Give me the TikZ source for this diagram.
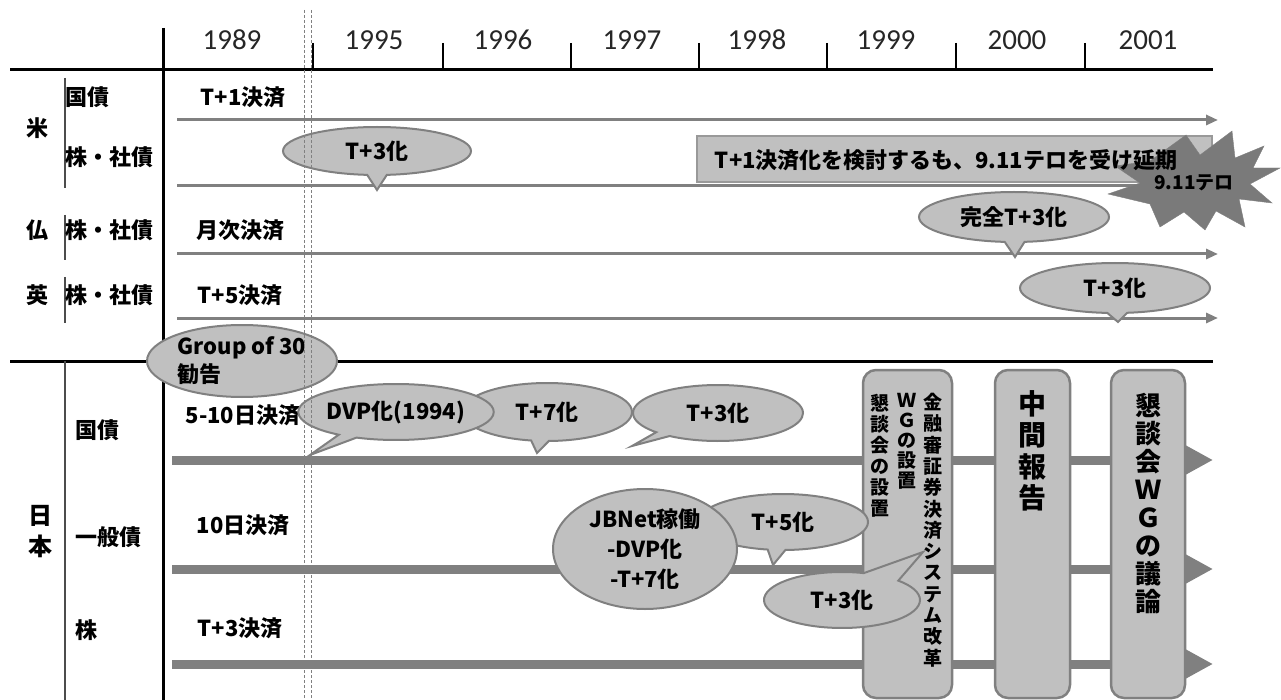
\documentclass[tikz,border=0pt]{standalone}
\usepackage{fontspec}
\setmainfont{Noto Sans CJK JP}
\newfontfamily\yr{Carlito}
\usetikzlibrary{shapes.callouts,shapes.geometric,arrows.meta}
\definecolor{fillg}{HTML}{C0C0C0}
\definecolor{edgeg}{HTML}{808080}
\definecolor{lineg}{HTML}{808080}
\definecolor{starg}{HTML}{7A7A7A}
\tikzset{
  lbl/.style={font=\fontsize{22}{24}\selectfont\bfseries, inner sep=0pt},
  yrlbl/.style={font=\yr\fontsize{29}{30}\selectfont, inner sep=0pt, text=black!85},
  co/.style={ellipse callout, draw=edgeg, fill=fillg, line width=2pt, inner sep=0pt,
             callout pointer arc=12, font=\fontsize{22}{24}\selectfont\bfseries},
  ov/.style={ellipse, draw=edgeg, fill=fillg, line width=2pt, inner sep=0pt,
             font=\fontsize{22}{24}\selectfont\bfseries},
  vbox/.style={draw=edgeg, fill=fillg, line width=2.5pt, rounded corners=13pt, inner sep=0pt},
  vtext/.style={align=center, inner sep=0pt, anchor=north},
  wline/.style={line width=3pt, draw=lineg, -{Triangle[length=12pt,width=10pt]}},
  jline/.style={line width=9pt, draw=lineg, -{Triangle[length=27pt,width=27pt]}},
  axisline/.style={line width=3pt, draw=black},
  tickline/.style={line width=2.5pt, draw=black},
  thinline/.style={line width=1.5pt, draw=black!70},
  vdashed/.style={dashed, dash pattern=on 3pt off 2pt, line width=0.8pt, draw=edgeg},
}
\begin{document}
\begin{tikzpicture}[x=1pt,y=-1pt]
\useasboundingbox (0,0) rectangle (1281,700);

% ---------- axes ----------
\coordinate (hL) at (10,70);   \coordinate (hR) at (1213,70);
\coordinate (sL) at (10,361);  \coordinate (sR) at (1213,361);
\coordinate (vT) at (163,28);  \coordinate (vB) at (163,700);
\draw[axisline] (hL) -- (hR);
\draw[axisline] (sL) -- (sR);
\draw[axisline] (vT) -- (vB);

% year ticks
\foreach \i/\x in {1/313,2/443,3/571,4/699,5/827,6/956,7/1085}{
  \coordinate (tk\i a) at (\x,43);
  \coordinate (tk\i b) at (\x,70);
  \draw[tickline] (tk\i a) -- (tk\i b);
}
% years
\node[yrlbl] (y89) at (232,40) {1989};
\node[yrlbl] (y95) at (374,40) {1995};
\node[yrlbl] (y96) at (503,40) {1996};
\node[yrlbl] (y97) at (632,40) {1997};
\node[yrlbl] (y98) at (757,40) {1998};
\node[yrlbl] (y99) at (886,40) {1999};
\node[yrlbl] (y00) at (1017,40) {2000};
\node[yrlbl] (y01) at (1148,40) {2001};

% thin row-group lines
\coordinate (g1a) at (65,78);  \coordinate (g1b) at (65,188);
\coordinate (g2a) at (65,215); \coordinate (g2b) at (65,260);
\coordinate (g3a) at (65,277); \coordinate (g3b) at (65,323);
\coordinate (g4a) at (65,361); \coordinate (g4b) at (65,700);
\draw[thinline] (g1a) -- (g1b);
\draw[thinline] (g2a) -- (g2b);
\draw[thinline] (g3a) -- (g3b);
\draw[thinline] (g4a) -- (g4b);

% ---------- left labels ----------
\node[lbl] (cUS) at (37,128) {米};
\node[lbl, anchor=west] (usGov) at (65,97) {国債};
\node[lbl, anchor=west] (usCorp) at (65,157) {株・社債};
\node[lbl] (cFR) at (37,230) {仏};
\node[lbl, anchor=west] (frCorp) at (65,230) {株・社債};
\node[lbl] (cUK) at (37,295) {英};
\node[lbl, anchor=west] (ukCorp) at (65,295) {株・社債};
\node[lbl, font=\fontsize{24}{31}\selectfont\bfseries, align=center] (cJP) at (40,532) {日\\本};
\node[lbl, anchor=west] (jpGov) at (75,430) {国債};
\node[lbl, anchor=west] (jpGen) at (75,537) {一般債};
\node[lbl, anchor=west] (jpEq) at (75,630) {株};

% initial states
\node[lbl] (s1) at (243,97) {T+1決済};
\node[lbl] (s2) at (240,230) {月次決済};
\node[lbl] (s3) at (240,295) {T+5決済};
\node[lbl] (s4) at (243,415) {5-10日決済};
\node[lbl] (s5) at (243,525) {10日決済};
\node[lbl] (s6) at (240,628) {T+3決済};

% ---------- western timelines ----------
\coordinate (w1a) at (177,120); \coordinate (w1b) at (1218,120);
\coordinate (w2a) at (177,186); \coordinate (w2b) at (1218,186);
\coordinate (w3a) at (177,254); \coordinate (w3b) at (1218,254);
\coordinate (w4a) at (177,318); \coordinate (w4b) at (1218,318);
\draw[wline] (w1a) -- (w1b);
\draw[wline] (w2a) -- (w2b);
\draw[wline] (w3a) -- (w3b);
\draw[wline] (w4a) -- (w4b);

% US T+3
\coordinate (pUS) at (377,190);
\node[co, minimum width=188pt, minimum height=48pt, callout absolute pointer={(pUS)}] (usT3) at (377,151) {T+3化};

% T+1 rectangle + star
\node[draw=edgeg!80, fill=fillg, line width=1.5pt, minimum width=515pt, minimum height=46pt, inner sep=0pt] (t1box) at (954.5,159) {};
\fill[starg, draw=edgeg] (1280,168) -- (1250,184) -- (1272,203) -- (1239,199) -- (1245,227)
  -- (1216,211) -- (1205,230) -- (1184,212) -- (1160,227) -- (1150,204) -- (1108,194)
  -- (1140,183) -- (1115,166) -- (1150,161) -- (1186,135) -- (1200,155) -- (1232,131)
  -- (1235,158) -- (1264,146) -- (1253,168) -- cycle;
\node[lbl] (t1txt) at (946,160) {T+1決済化を検討するも、9.11テロを受け延期};
\node[lbl, font=\fontsize{19}{21}\selectfont\bfseries] (star) at (1194,183) {9.11テロ};

% France / UK
\coordinate (pFR) at (1015,257);
\node[co, minimum width=190pt, minimum height=50pt, callout absolute pointer={(pFR)}] (frT3) at (1014,217) {完全T+3化};
\coordinate (pUK) at (1118,322);
\node[co, minimum width=190pt, minimum height=50pt, callout absolute pointer={(pUK)}] (ukT3) at (1115,288) {T+3化};

% ---------- Japan timelines ----------
\coordinate (j1a) at (172,460); \coordinate (j1b) at (1213,460);
\coordinate (j2a) at (172,569); \coordinate (j2b) at (1213,569);
\coordinate (j3a) at (172,664); \coordinate (j3b) at (1213,664);
\draw[jline] (j1a) -- (j1b);
\draw[jline] (j2a) -- (j2b);
\draw[jline] (j3a) -- (j3b);

% vertical boxes
\node[vbox, minimum width=89pt, minimum height=328pt] (b1) at (907.5,534) {};
\node[vbox, minimum width=75pt, minimum height=328pt] (b2) at (1032.5,534) {};
\node[vbox, minimum width=74pt, minimum height=328pt] (b3) at (1148,534) {};

\node[vtext, font=\fontsize{19}{21.3}\selectfont\bfseries] (b1c) at (933,393)
  {金\\融\\審\\証\\券\\決\\済\\シ\\ス\\テ\\ム\\改\\革};
\node[vtext, font=\fontsize{19}{20}\selectfont\bfseries] (b1b) at (907,393)
  {Ｗ\\Ｇ\\の\\設\\置};
\node[vtext, font=\fontsize{19}{21}\selectfont\bfseries] (b1a) at (880,394)
  {懇\\談\\会\\の\\設\\置};
\node[vtext, font=\fontsize{28}{31.5}\selectfont\bfseries] (b2t) at (1032,390)
  {中\\間\\報\\告};
\node[vtext, font=\fontsize{26}{28}\selectfont\bfseries] (b3t) at (1148,393)
  {懇\\談\\会\\Ｗ\\Ｇ\\の\\議\\論};

% Japan callouts
\node[ov, minimum width=190pt, minimum height=72pt, align=left, font=\fontsize{22}{28}\selectfont\bfseries] (g30) at (242,361) {Group of 30\\勧告};

\coordinate (pT7) at (537,453);
\node[co, minimum width=170pt, minimum height=58pt, callout absolute pointer={(pT7)}] (jT7) at (547,412) {T+7化};
\coordinate (pDVP) at (310,455);
\node[co, minimum width=168pt, minimum height=56pt, callout absolute pointer={(pDVP)}] (jDVP) at (396,412) {DVP化(1994)};
\coordinate (pJT3) at (632,446);
\node[co, minimum width=170pt, minimum height=56pt, callout absolute pointer={(pJT3)}] (jT3) at (718,413) {T+3化};

\coordinate (pT5) at (773,565);
\node[co, minimum width=170pt, minimum height=56pt, callout absolute pointer={(pT5)}] (gT5) at (783,522) {T+5化};
\node[ov, minimum width=184pt, minimum height=120pt, align=center, font=\fontsize{22}{30}\selectfont\bfseries] (jb) at (645,549) {JBNet稼働\\-DVP化\\-T+7化};
\coordinate (pGT3) at (923,552);
\node[co, minimum width=156pt, minimum height=56pt, callout pointer arc=30, callout absolute pointer={(pGT3)}] (gT3) at (842,600) {T+3化};

% dashed reference lines
\coordinate (d1a) at (304,10); \coordinate (d1b) at (304,700);
\coordinate (d2a) at (311,10); \coordinate (d2b) at (311,700);
\draw[vdashed] (d1a) -- (d1b);
\draw[vdashed] (d2a) -- (d2b);
\end{tikzpicture}
\end{document}
